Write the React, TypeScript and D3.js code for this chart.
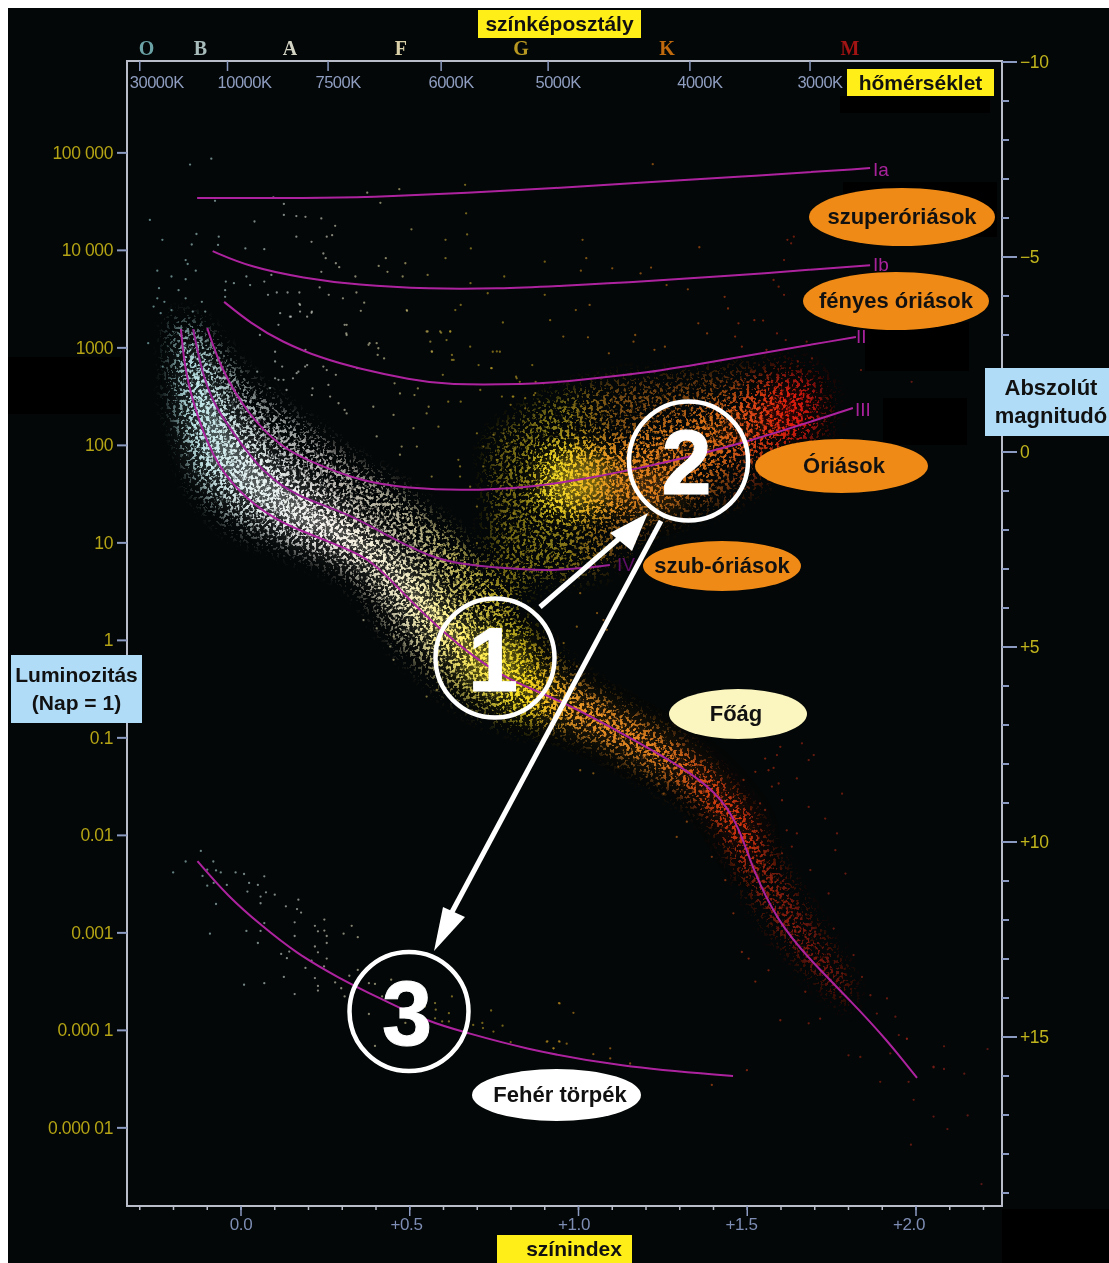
import React from "react";
import * as d3 from "d3";

type Curve = [number, number][];
type Band = [number, number, number][];

// Evolution-track curves: [colour index B-V, absolute magnitude]
const curveIa: Curve = [[-0.13,-6.51],[0.284,-6.51],[0.439,-6.56],[0.66,-6.64],[0.936,-6.77],[1.173,-6.9],[1.526,-7.08],[1.864,-7.28]];
const curveIb: Curve = [[-0.084,-5.15],[0.027,-4.74],[0.185,-4.46],[0.344,-4.28],[0.556,-4.18],[0.767,-4.19],[0.945,-4.26],[1.182,-4.36],[1.567,-4.59],[1.864,-4.79]];
const curveII: Curve = [[-0.05,-3.85],[0.027,-3.31],[0.121,-2.82],[0.237,-2.41],[0.344,-2.15],[0.504,-1.85],[0.607,-1.72],[0.853,-1.74],[0.945,-1.79],[1.203,-2.03],[1.339,-2.23],[1.822,-2.95]];
const curveIII: Curve = [[-0.1,-3.18],[-0.062,-2.18],[0.018,-0.99],[0.116,-0.13],[0.213,0.28],[0.361,0.77],[0.492,0.92],[0.658,1.0],[0.856,0.9],[0.966,0.77],[1.161,0.46],[1.458,-0.13],[1.813,-1.13]];
const curveIV: Curve = [[-0.142,-3.15],[-0.116,-2.05],[-0.083,-1.26],[-0.024,-0.49],[0.065,0.54],[0.166,1.15],[0.314,1.56],[0.441,2.18],[0.56,2.69],[0.658,2.9],[0.856,3.03],[0.954,3.03],[1.093,2.9]];
const curveV: Curve = [[-0.178,-3.15],[-0.166,-2.05],[-0.13,-0.9],[-0.071,0.38],[0.018,1.23],[0.116,1.82],[0.264,2.31],[0.382,2.72],[0.462,3.46],[0.581,4.49],[0.708,5.38],[0.806,5.9],[0.945,6.36],[1.123,7.18],[1.339,8.23],[1.428,8.92],[1.479,9.69],[1.517,10.72],[1.588,12.0],[1.677,12.95],[1.813,14.13],[1.914,15.08],[2.003,16.05]];
const curveWD: Curve = [[-0.129,10.49],[-0.037,11.41],[0.059,12.13],[0.163,12.85],[0.29,13.49],[0.409,14.0],[0.557,14.62],[0.661,14.87],[0.827,15.28],[1.123,15.77],[1.458,16.0]];

// Extent of the unresolved star clouds: [B-V, brightest magnitude, faintest magnitude]
const msOuter: Band = [[-0.204,-3.4,-1.33],[-0.166,-3.4,-0.18],[-0.13,-3.26,0.9],[-0.077,-2.74,1.49],[-0.003,-1.97,2.0],[0.065,-1.41,2.18],[0.175,-0.69,2.56],[0.264,-0.13,2.85],[0.361,0.46,3.54],[0.462,0.97,4.82],[0.56,1.67,5.67],[0.658,2.38,6.36],[0.767,3.41,6.82],[0.856,4.56,7.0],[0.945,5.46,7.13],[1.064,6.23,7.51],[1.212,7.0,8.28],[1.33,7.77,8.92],[1.419,8.54,9.69],[1.493,9.18,10.97],[1.582,10.46,12.26],[1.67,11.74,13.15],[1.804,13.54,14.3]];
const msInner: Band = [[-0.166,-3.0,-1.0],[-0.13,-2.6,0.3],[-0.07,-1.6,0.9],[0.02,-0.4,1.5],[0.116,0.4,2.0],[0.26,1.3,2.5],[0.38,2.0,3.0],[0.46,2.7,3.9],[0.58,3.6,5.0],[0.71,4.7,5.8],[0.81,5.3,6.5],[0.945,6.0,6.8],[1.12,6.8,7.5],[1.34,7.9,8.5],[1.43,8.6,9.4],[1.52,9.6,10.9]];
const giantOuter: Band = [[0.738,-0.31,4.3],[0.886,-1.2,3.28],[1.064,-1.72,3.03],[1.212,-1.85,2.0],[1.36,-1.97,1.49],[1.508,-2.1,0.97],[1.656,-2.23,-0.05],[1.745,-1.72,-0.56]];
const giantInner: Band = [[0.871,-0.05,1.5],[0.975,-0.31,1.74],[1.123,-0.31,1.6],[1.27,-0.82,1.23],[1.419,-1.33,0.46],[1.567,-1.72,-0.05],[1.7,-1.72,-0.56]];

// Individually readable stars: [B-V, magnitude]
const hotField: Curve = [[-0.151,-7.37],[-0.088,-7.52],[-0.077,-6.44],[0.096,-6.53],[0.127,-6.36],[-0.27,-5.95],[0.127,-6.08],[0.164,-6.05],[0.191,-6.03],[0.238,-5.99],[0.279,-5.8],[0.04,-5.91],[0.164,-5.52],[0.209,-5.39],[0.254,-5.52],[0.27,-5.56],[-0.233,-5.44],[-0.132,-5.59],[-0.146,-5.32],[-0.066,-5.52],[-0.068,-5.31],[0.013,-5.22],[0.069,-5.2],[0.244,-5.09],[0.251,-4.97],[0.281,-4.84],[0.291,-4.74],[0.408,-4.77],[0.429,-4.97],[0.434,-4.62],[0.487,-4.84],[0.505,-5.71],[0.413,-6.39],[0.374,-6.65],[0.469,-6.74],[0.553,-4.54],[0.479,-4.5],[0.339,-4.5],[0.238,-4.62],[-0.164,-4.92],[-0.158,-4.82],[-0.248,-4.65],[-0.206,-4.5],[-0.164,-4.43],[-0.134,-4.65],[-0.045,-4.37],[-0.021,-4.33],[0.016,-4.5],[0.027,-4.28],[0.069,-4.37],[0.09,-4.54],[-0.243,-4.2],[-0.248,-3.94],[-0.227,-3.85],[-0.185,-4.15],[-0.164,-3.94],[-0.259,-3.73],[-0.238,-3.56],[-0.206,-3.64],[-0.143,-3.6],[-0.116,-3.85],[-0.106,-3.6],[-0.047,-4.15],[-0.047,-3.98],[0.08,-4.03],[0.106,-4.09],[0.138,-4.09],[0.173,-4.09],[0.233,-4.22],[0.26,-4.03],[0.302,-3.94],[0.342,-4.09],[0.365,-3.83],[0.355,-3.62],[0.492,-3.62],[0.173,-3.8],[0.175,-3.6],[0.148,-3.47],[0.196,-3.47],[0.209,-3.57],[0.111,-3.26],[0.056,-3.0],[0.307,-3.26],[0.312,-3.04],[-0.275,-2.79],[-0.232,-2.19],[0.101,-2.57],[0.101,-2.32],[0.048,-2.06],[0.122,-2.19],[0.191,-2.62],[0.196,-2.23],[0.17,-2.06],[0.212,-1.63],[0.244,-2.19],[0.254,-2.1],[0.101,-1.89],[0.154,-1.89],[0.281,-1.98],[0.344,-2.15],[0.381,-2.79],[0.402,-2.79],[0.405,-2.49],[0.424,-2.4],[0.455,-1.76],[0.307,-1.08],[0.392,-1.16],[0.514,-1.46],[0.524,-1.63]];
const warmField: Curve = [[0.664,-6.85],[0.667,-6.12],[0.606,-5.44],[0.67,-5.58],[0.681,-5.22],[0.606,-4.97],[0.78,-4.5],[0.68,-4.33],[0.731,-4.07],[0.9,-4.88],[0.9,-4.03],[0.651,-3.77],[0.635,-3.64],[0.776,-3.32],[0.916,-3.38],[0.553,-3.09],[0.593,-3.06],[0.62,-3.09],[0.561,-2.83],[0.609,-2.87],[0.566,-2.57],[0.625,-2.49],[0.63,-2.36],[0.746,-2.57],[0.767,-2.57],[0.704,-2.23],[0.741,-2.15],[0.863,-2.23],[0.598,-1.98],[0.815,-1.93],[0.873,-1.8],[0.826,-1.8],[0.709,-1.59],[0.773,-1.42],[0.805,-1.42],[0.842,-1.38],[0.868,-1.46],[0.884,-1.29],[0.799,-1.21],[0.842,-1.12],[0.556,-1.16],[0.614,-1.29],[0.651,-1.29],[0.471,-1.5]];
const coolField: Curve = [[1.22,-7.38],[1.012,-5.44],[1.023,-4.97],[1.007,-4.65],[1.1,-4.71],[1.358,-5.25],[1.609,-4.92],[1.619,-5.44],[1.638,-5.52],[1.63,-5.35],[1.215,-4.73],[1.184,-4.58],[1.261,-4.28],[1.324,-4.17],[1.578,-4.41],[1.593,-4.24],[1.609,-4.03],[1.033,-3.77],[0.992,-3.64],[1.433,-3.98],[1.443,-3.68],[1.474,-3.3],[1.355,-3.3],[1.521,-3.38],[1.547,-3.37],[1.381,-3.04],[1.464,-2.96],[1.484,-2.7],[1.168,-3.0],[1.163,-2.83],[1.256,-2.7],[1.225,-2.62],[1.09,-2.53],[1.028,-2.94],[0.955,-2.96],[1.557,-2.62],[1.588,-3.04],[1.614,-2.87],[1.676,-2.83],[1.692,-2.4],[1.65,-2.32],[1.837,-2.1],[1.987,-1.8]];
const midField: Curve = [[0.116,-3.56],[0.145,-3.47],[0.175,-3.77],[0.21,-3.6],[0.491,-3.64],[0.55,-3.09],[0.59,-3.09],[0.62,-3.09],[0.565,-2.58],[0.625,-2.36],[0.378,-2.75],[0.407,-2.66],[0.19,-2.19],[0.165,-2.02],[0.111,-1.85],[0.126,-1.85],[0.086,-1.64],[0.135,-1.59],[0.259,-1.72],[0.313,-3.0],[0.313,-3.26],[0.21,-1.46],[0.264,-1.42],[0.289,-1.25],[0.313,-0.99],[0.452,-0.95],[0.511,-0.61],[0.55,-0.99],[0.585,-0.65],[0.402,-0.4],[0.476,-0.14],[0.521,-0.14],[0.471,0.07],[0.565,0.63],[0.644,0.2],[0.649,0.37],[0.699,-0.48],[0.748,-0.44],[0.778,-0.48],[0.788,-0.22],[0.718,-0.14],[0.807,-1.42],[0.872,-1.51],[0.896,-1.76],[0.758,-2.58],[0.679,-2.7],[0.743,-2.15],[0.817,-1.89],[0.649,0.63],[0.679,0.89],[0.718,0.37],[0.758,0.2],[0.797,0.46],[0.788,0.97],[0.699,1.4],[0.758,1.66],[0.807,1.57],[0.837,2.0],[0.758,2.0],[0.802,2.25],[0.699,2.34],[0.896,2.08],[0.921,2.68],[0.956,3.28],[1.005,3.62],[1.055,4.13],[1.074,4.31],[0.995,4.48],[0.956,4.9],[0.995,5.5],[0.363,4.31],[0.402,4.52],[0.452,4.73],[0.442,4.99],[0.452,5.33],[0.55,6.27],[0.58,6.1],[1.005,5.93],[1.084,4.56]];
const dwarfField: Curve = [[1.662,7.47],[1.598,7.56],[1.588,7.77],[1.553,7.86],[1.697,7.77],[1.682,7.9],[1.524,8.2],[1.563,8.16],[1.578,8.1],[1.593,8.5],[1.573,8.58],[1.647,8.37],[1.489,8.41],[1.781,8.76],[1.538,9.01],[1.603,8.93],[1.682,9.1],[1.553,9.18],[1.731,9.4],[1.766,9.78],[1.617,9.7],[1.647,9.78],[1.632,10.12],[1.761,10.21],[1.687,10.72],[1.791,10.81],[1.741,11.32],[1.603,10.29],[1.756,12.22],[1.701,12.3],[1.815,12.9],[1.84,13.46],[1.781,13.37],[1.865,13.93],[1.914,14.01],[1.884,14.4],[1.939,14.48],[1.949,14.95],[1.973,15.04],[1.8,15.47],[1.835,15.51],[1.924,15.42],[1.894,16.15],[1.978,16.15],[2.052,15.76],[1.598,14.57],[1.682,14.65],[1.716,14.53],[1.484,12.82],[1.504,12.99],[1.524,13.58],[1.563,13.29],[1.672,13.84],[1.291,9.87],[1.395,10.38],[1.459,11.83],[1.435,10.98],[1.321,9.48],[1.252,8.76],[1.005,8.16],[1.044,8.24],[1.118,8.07],[1.202,8.33],[1.237,8.5],[0.944,14.14],[0.985,14.38],[0.906,15.12],[0.926,15.29],[0.944,15.12],[0.965,15.17],[1.044,15.44],[1.094,15.29],[1.094,15.55],[1.153,15.68],[1.499,15.85],[1.395,16.23],[1.973,15.05],[2.083,15.24],[2.212,15.31],[2.052,15.78],[2.083,15.82],[2.143,15.94],[1.993,16.61],[2.052,17.04],[2.153,17.01],[2.093,17.36],[1.985,17.76],[2.194,18.77]];
const whiteDwarfField: Curve = [[-0.201,10.78],[-0.164,10.5],[-0.119,10.23],[-0.082,10.5],[-0.1,10.71],[-0.074,10.73],[-0.06,10.78],[-0.114,10.87],[-0.1,11.12],[-0.081,11.05],[-0.042,11.1],[-0.016,10.78],[0.009,10.82],[0.024,11.05],[0.05,11.1],[0.069,10.88],[0.019,11.27],[0.058,11.4],[0.074,11.29],[0.1,11.35],[-0.074,11.59],[0.058,11.57],[0.133,11.65],[0.17,11.48],[0.166,11.72],[0.178,11.81],[0.159,12.06],[0.247,11.99],[0.219,12.15],[0.228,12.29],[0.247,12.27],[0.328,12.15],[0.304,12.35],[0.346,12.44],[0.159,12.41],[0.254,12.59],[0.219,12.68],[0.254,12.41],[0.069,12.08],[0.016,12.28],[0.058,12.28],[-0.092,12.35],[0.05,12.59],[0.119,12.87],[0.143,12.81],[0.136,12.98],[0.228,12.83],[0.254,12.99],[0.209,13.04],[0.191,13.23],[0.246,13.19],[0.127,13.46],[0.219,13.49],[0.009,13.66],[0.069,13.62],[0.228,13.69],[0.228,13.81],[0.159,13.9],[0.279,13.6],[0.297,13.75],[0.321,13.43],[0.346,13.28],[0.307,13.96],[0.379,13.62],[0.397,13.64],[0.379,14.41],[0.397,15.23],[0.445,13.53],[0.418,13.96],[0.487,14.64],[0.514,14.52],[0.545,14.22],[0.575,14.13],[0.577,14.3],[0.575,14.52],[0.596,14.6],[0.616,14.39],[0.616,14.6],[0.625,13.96],[0.688,14.69],[0.715,14.64],[0.717,14.77],[0.741,14.32],[0.748,14.86],[0.775,14.71],[0.799,15.13],[0.908,15.11],[0.942,14.13],[0.926,15.29],[0.942,15.11]];

const colourStops = [-0.3, 0.0, 0.2, 0.42, 0.62, 0.85, 1.08, 1.3, 1.5, 1.65, 2.3];
const colourValues = ["#8fc8cc", "#b8d4d4", "#d4d6cc", "#d4cfa0", "#b8a030", "#b89a20", "#c87a1c", "#c86a18", "#c03414", "#a82814", "#8a2020"];

const spectralClasses = ["O", "B", "A", "F", "G", "K", "M"];
const spectralPositions = [-0.28, -0.12, 0.145, 0.474, 0.83, 1.262, 1.804];
const spectralColours = ["#6aa2a6", "#a9bcbc", "#d4d4c4", "#d9d0a8", "#b89820", "#c06a10", "#a01212"];
const temperatureLabels = ["30000K", "10000K", "7500K", "6000K", "5000K", "4000K", "3000K"];
const temperaturePositions = [-0.3, -0.04, 0.258, 0.593, 0.91, 1.33, 1.686];
const luminosityLabels = ["100 000", "10 000", "1000", "100", "10", "1", "0.1", "0.01", "0.001", "0.000 1", "0.000 01"];
const luminosityExponents = [5, 4, 3, 2, 1, 0, -1, -2, -3, -4, -5];
const magnitudeLabels = ["−10", "−5", "0", "+5", "+10", "+15"];
const magnitudeMajor = [-10, -5, 0, 5, 10, 15];
const colourLabels = ["0.0", "+0.5", "+1.0", "+1.5", "+2.0"];
const colourMajor = [0, 0.5, 1, 1.5, 2];

const SANS = "'Liberation Sans', Arial, sans-serif";
const x = d3.scaleLinear().domain([0, 2]).range([241, 916]);
const y = d3.scaleLinear().domain([0, 15]).range([452, 1037]);
const starColour = d3.scaleLinear<string>().domain(colourStops).range(colourValues);
const magOfLum = (e: number) => 4.83 - 2.5 * e;

const linePath = d3.line<[number, number]>().x(d => x(d[0])).y(d => y(d[1])).curve(d3.curveBasis);
const bandPath = d3.area<[number, number, number]>().x(d => x(d[0])).y0(d => y(d[1])).y1(d => y(d[2])).curve(d3.curveCatmullRom.alpha(0.5));

const minorX = d3.range(-3, 23).map(v => v / 10);
const minorMag = d3.range(-9, 20);

function Oval({ x0, x1, y0, y1, fill, label, tx }: { x0: number; x1: number; y0: number; y1: number; fill: string; label: string; tx?: number }) {
  const cx = (x0 + x1) / 2, cy = (y0 + y1) / 2;
  return (
    <g>
      <ellipse cx={cx} cy={cy} rx={(x1 - x0) / 2} ry={(y1 - y0) / 2} fill={fill} />
      <text x={tx ?? cx} y={cy + 7} textAnchor="middle" fontFamily={SANS} fontWeight="bold" fontSize={22} fill="#111">{label}</text>
    </g>
  );
}

function Box({ x0, x1, y0, y1, fill, lines, size = 21, tx }: { x0: number; x1: number; y0: number; y1: number; fill: string; lines: string[]; size?: number; tx?: number }) {
  const cx = (x0 + x1) / 2, cy = (y0 + y1) / 2;
  return (
    <g>
      <rect x={x0} y={y0} width={x1 - x0} height={y1 - y0} fill={fill} />
      {lines.map((l, i) => (
        <text key={l} x={tx ?? cx} y={cy + 7 + (i - (lines.length - 1) / 2) * 28} textAnchor="middle" fontFamily={SANS} fontWeight="bold" fontSize={size} fill="#111">{l}</text>
      ))}
    </g>
  );
}

function Ring({ cx, cy, digit }: { cx: number; cy: number; digit: string }) {
  return (
    <g>
      <circle cx={cx} cy={cy} r={59.5} fill="none" stroke="#fff" strokeWidth={4.5} />
      <text x={cx - 2} y={cy + 33} textAnchor="middle" fontFamily={SANS} fontWeight="bold" fontSize={90} fill="#fff" stroke="#fff" strokeWidth={1}>{digit}</text>
    </g>
  );
}

export default function App() {
  const fields: Curve[] = [hotField, warmField, coolField, midField, dwarfField, whiteDwarfField];
  const tracks: Curve[] = [curveIa, curveIb, curveII, curveIII, curveIV, curveV, curveWD];
  return (
    <svg width={1109} height={1263} style={{ position: "absolute", left: 0, top: 0, display: "block" }}>
      <defs>
        <linearGradient id="msGrad" gradientUnits="userSpaceOnUse" x1={170} x2={800} y1={0} y2={0}>
          <stop offset="0" stopColor="#a4dade" />
          <stop offset="0.12" stopColor="#e2f0f0" />
          <stop offset="0.25" stopColor="#f4f0ec" />
          <stop offset="0.38" stopColor="#f6f0c8" />
          <stop offset="0.46" stopColor="#fff070" />
          <stop offset="0.56" stopColor="#f6df1c" />
          <stop offset="0.64" stopColor="#ee9a28" />
          <stop offset="0.78" stopColor="#e88220" />
          <stop offset="0.88" stopColor="#e63c10" />
          <stop offset="1" stopColor="#b02010" />
        </linearGradient>
        <linearGradient id="giantGrad" gradientUnits="userSpaceOnUse" x1={490} x2={840} y1={0} y2={0}>
          <stop offset="0" stopColor="#c8b020" />
          <stop offset="0.2" stopColor="#fde428" />
          <stop offset="0.36" stopColor="#ea8f20" />
          <stop offset="0.66" stopColor="#dc6c18" />
          <stop offset="0.86" stopColor="#ec1c10" />
          <stop offset="1" stopColor="#a81010" />
        </linearGradient>
        <filter id="speckle" filterUnits="userSpaceOnUse" x={127} y={61} width={875} height={1145} colorInterpolationFilters="sRGB">
          <feGaussianBlur in="SourceGraphic" stdDeviation={10} result="soft" />
          <feComponentTransfer in="soft" result="opaque">
            <feFuncA type="linear" slope={60} />
          </feComponentTransfer>
          <feColorMatrix in="soft" type="matrix" values="0 0 0 0 1  0 0 0 0 1  0 0 0 0 1  0 0 0 1 0" result="density" />
          <feTurbulence type="fractalNoise" baseFrequency={0.3} numOctaves={2} seed={4} result="noise" />
          <feColorMatrix in="noise" type="matrix" values="0 0 0 0 1  0 0 0 0 1  0 0 0 0 1  6 0 0 0 -2.7" result="grain" />
          <feComposite in="density" in2="grain" operator="arithmetic" k1={0} k2={1.5} k3={1} k4={-1} result="mask" />
          <feComposite in="opaque" in2="mask" operator="in" result="specks" />
          <feGaussianBlur in="specks" stdDeviation={0.5} />
        </filter>
        <filter id="soften" x="-2%" y="-2%" width="104%" height="104%">
          <feGaussianBlur stdDeviation={0.45} />
        </filter>
        <filter id="glow" filterUnits="userSpaceOnUse" x={127} y={61} width={875} height={1145}>
          <feGaussianBlur stdDeviation={14} />
        </filter>
      </defs>

      <rect x={8} y={8} width={1101} height={1255} fill="#040707" />
      <rect x={8} y={357} width={113} height={57} fill="#000" />
      <rect x={840} y={96} width={150} height={17} fill="#000" />
      <rect x={843} y={182} width={154} height={55} fill="#000" />
      <rect x={865} y={322} width={104} height={49} fill="#000" />
      <rect x={883} y={398} width={84} height={47} fill="#000" />
      <rect x={1002} y={1209} width={107} height={54} fill="#000" />

      <g filter="url(#soften)">
        <ellipse cx={x(1.0)} cy={y(0.75)} rx={34} ry={24} fill="#ffd820" opacity={0.5} filter="url(#glow)" />
        <ellipse cx={x(1.2)} cy={y(1.0)} rx={36} ry={20} fill="#e88a20" opacity={0.25} filter="url(#glow)" />
        <ellipse cx={x(1.62)} cy={y(-1.1)} rx={24} ry={22} fill="#e01808" opacity={0.15} filter="url(#glow)" />
        <ellipse cx={x(0.75)} cy={y(5.4)} rx={30} ry={24} fill="#f8e020" opacity={0.35} filter="url(#glow)" />
        <path d={bandPath(msInner) ?? ""} fill="url(#msGrad)" opacity={0.2} filter="url(#glow)" />
        <path d={bandPath(msOuter) ?? ""} fill="url(#msGrad)" fillOpacity={0.62} opacity={0.8} filter="url(#speckle)" />
        <path d={bandPath(msInner) ?? ""} fill="url(#msGrad)" fillOpacity={0.8} filter="url(#speckle)" />
        <path d={bandPath(giantOuter) ?? ""} fill="url(#giantGrad)" fillOpacity={0.5} opacity={0.7} filter="url(#speckle)" />
        <path d={bandPath(giantInner) ?? ""} fill="url(#giantGrad)" fillOpacity={0.72} opacity={0.9} filter="url(#speckle)" />

        {fields.map((f, i) => (
          <g key={i}>
            {f.map((d, j) => (
              <circle key={j} cx={x(d[0])} cy={y(d[1])} r={1.15} fill={starColour(d[0])} opacity={0.62} />
            ))}
          </g>
        ))}

        {tracks.map((t, i) => (
          <path key={i} d={linePath(t) ?? ""} fill="none" stroke={t === curveIV ? "#9a2096" : "#ad249f"} strokeWidth={2} />
        ))}

        <g fontFamily={SANS} fontSize={19} fill="#a8239c">
          <text x={873} y={176}>Ia</text>
          <text x={873} y={271}>Ib</text>
          <text x={856} y={343}>II</text>
          <text x={855} y={416}>III</text>
          <text x={617} y={571} fill="#5e1068">IV</text>
        </g>

        <path d={`M127 1206V61H1002V1206Z`} fill="none" stroke="#b8bdc9" strokeWidth={2} />
        {temperaturePositions.map((v, i) => (
          <g key={temperatureLabels[i]}>
            <line x1={x(v)} x2={x(v)} y1={61} y2={71} stroke="#8a9ac0" strokeWidth={1.5} />
            <text x={x(v) + (i < 2 ? 17 : 10)} y={88} textAnchor="middle" fontFamily={SANS} fontSize={16.5} letterSpacing={-0.5} fill="#8e9dc0">{temperatureLabels[i]}</text>
          </g>
        ))}
        {spectralClasses.map((c, i) => (
          <text key={c} x={x(spectralPositions[i])} y={55} textAnchor="middle" fontFamily="'Liberation Serif', serif" fontSize={20} fontWeight="bold" fill={spectralColours[i]}>{c}</text>
        ))}
        {luminosityExponents.map((e, i) => (
          <g key={e}>
            <line x1={117} x2={127} y1={y(magOfLum(e))} y2={y(magOfLum(e))} stroke="#8a9ac0" strokeWidth={2} />
            <text x={113} y={y(magOfLum(e)) + 6} textAnchor="end" fontFamily={SANS} fontSize={17.5} letterSpacing={-0.4} fill="#b4a414">{luminosityLabels[i]}</text>
          </g>
        ))}
        {minorMag.map(m => (
          <line key={m} x1={1002} x2={1009} y1={y(m)} y2={y(m)} stroke="#8a9ac0" strokeWidth={2} />
        ))}
        {magnitudeMajor.map((m, i) => (
          <g key={m}>
            <line x1={1002} x2={1017} y1={y(m)} y2={y(m)} stroke="#8a9ac0" strokeWidth={2} />
            <text x={1020} y={y(m) + 6} fontFamily={SANS} fontSize={17.5} letterSpacing={-0.4} fill="#c0b41c">{magnitudeLabels[i]}</text>
          </g>
        ))}
        {minorX.map(v => (
          <line key={v} x1={x(v)} x2={x(v)} y1={1206} y2={1210} stroke="#b8bdc9" strokeWidth={1.5} />
        ))}
        {colourMajor.map((v, i) => (
          <g key={v}>
            <line x1={x(v)} x2={x(v)} y1={1206} y2={1216} stroke="#8a9ac0" strokeWidth={1.5} />
            <text x={x(v) - (i ? v * 2.5 + 2 : 0)} y={1230} textAnchor="middle" fontFamily={SANS} fontSize={17} letterSpacing={-0.4} fill="#7d8db4">{colourLabels[i]}</text>
          </g>
        ))}
      </g>

      <Box x0={478} x1={641} y0={10} y1={38} fill="#ffee18" lines={["színképosztály"]} />
      <Box x0={847} x1={994} y0={69} y1={96} fill="#ffee18" lines={["hőmérséklet"]} />
      <Box x0={497} x1={632} y0={1235} y1={1263} fill="#ffee18" lines={["színindex"]} tx={574} />
      <Box x0={11} x1={142} y0={655} y1={723} fill="#b0dcf8" lines={["Luminozitás", "(Nap = 1)"]} size={21} />
      <Box x0={985} x1={1109} y0={368} y1={436} fill="#b0dcf8" lines={["Abszolút", "magnitudó"]} size={22} tx={1051} />

      <Oval x0={809} x1={995} y0={188} y1={246} fill="#f08a16" label="szuperóriások" />
      <Oval x0={803} x1={989} y0={272} y1={330} fill="#f08a16" label="fényes óriások" />
      <Oval x0={755} x1={928} y0={439} y1={493} fill="#f08a16" label="Óriások" tx={844} />
      <Oval x0={643} x1={801} y0={541} y1={591} fill="#f08a16" label="szub-óriások" />
      <Oval x0={669} x1={807} y0={689} y1={739} fill="#fbf5bf" label="Főág" tx={736} />
      <Oval x0={472} x1={641} y0={1069} y1={1121} fill="#ffffff" label="Fehér törpék" tx={560} />

      <g stroke="#fff" strokeWidth={5} fill="none">
        <line x1={540} y1={607} x2={622} y2={536} />
        <line x1={661} y1={521} x2={452} y2={912} />
      </g>
      <path d="M648 513L610 533L632 551Z" fill="#fff" />
      <path d="M434 951L443 907L465 917Z" fill="#fff" />

      <Ring cx={495} cy={658} digit="1" />
      <Ring cx={688.5} cy={461} digit="2" />
      <Ring cx={409} cy={1011.5} digit="3" />
    </svg>
  );
}
